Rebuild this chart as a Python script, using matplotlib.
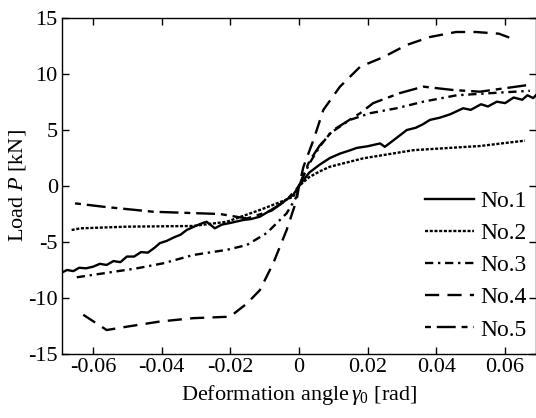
import matplotlib
matplotlib.use("Agg")
import matplotlib.pyplot as plt

plt.rcParams['font.family'] = ['Liberation Serif', 'DejaVu Serif']
plt.rcParams['mathtext.fontset'] = 'custom'
plt.rcParams['mathtext.rm'] = 'Liberation Serif'
plt.rcParams['mathtext.it'] = 'Liberation Serif:italic'

# Deformation angle [rad] / Load [kN] for each specimen
x1 = [-0.0696, -0.0675, -0.0657, -0.0640, -0.0620, -0.0599, -0.0580, -0.0560, -0.0540, -0.0520,
      -0.0501, -0.0480, -0.0460, -0.0440, -0.0420, -0.0405, -0.0385, -0.0365, -0.0345, -0.0327,
      -0.0300, -0.0280, -0.0269, -0.0245, -0.0225, -0.0200, -0.0163, -0.0140, -0.0114, -0.0090,
      -0.0066, -0.0040, -0.0017, 0.0,
      0.0030, 0.0060, 0.0090, 0.0120, 0.0150, 0.0168, 0.0200, 0.0236, 0.0250, 0.0280, 0.0314,
      0.0340, 0.0360, 0.0381, 0.0410, 0.0440, 0.0478, 0.0500, 0.0530, 0.0550, 0.0576, 0.0600,
      0.0625, 0.0650, 0.0665, 0.0682, 0.0695]
y1 = [-7.8, -7.5, -7.6, -7.3, -7.35, -7.2, -6.95, -7.05, -6.7, -6.8,
      -6.3, -6.3, -5.9, -5.95, -5.5, -5.1, -4.9, -4.6, -4.35, -3.93,
      -3.55, -3.3, -3.19, -3.78, -3.45, -3.3, -3.04, -2.95, -2.74, -2.3,
      -1.85, -1.3, -0.8, 0.0,
      1.2, 1.9, 2.5, 2.9, 3.2, 3.4, 3.55, 3.8, 3.5, 4.2, 5.0,
      5.2, 5.5, 5.9, 6.1, 6.4, 6.94, 6.8, 7.3, 7.1, 7.53, 7.4,
      7.9, 7.7, 8.1, 7.85, 8.28]

x2 = [-0.0662, -0.0637, -0.0501, -0.0308, -0.0210, -0.0114, -0.0060, -0.0017, 0.0,
      0.0030, 0.0060, 0.0090, 0.0187, 0.0333, 0.0527, 0.0658]
y2 = [-3.93, -3.78, -3.63, -3.57, -3.19, -2.14, -1.5, -0.96, 0.0,
      0.8, 1.3, 1.72, 2.47, 3.2, 3.57, 4.05]

x3 = [-0.0647, -0.0570, -0.0472, -0.0395, -0.0308, -0.0210, -0.0152, -0.0094, -0.0036, -0.0007, 0.0,
      0.0030, 0.0060, 0.0090, 0.0148, 0.0207, 0.0284, 0.0362, 0.0459, 0.0547, 0.0672]
y3 = [-8.15, -7.8, -7.35, -6.9, -6.16, -5.7, -5.27, -4.2, -2.44, -0.95, 0.0,
      2.0, 3.5, 4.7, 5.9, 6.5, 6.94, 7.53, 8.1, 8.27, 8.5]

x4 = [-0.0628, -0.0560, -0.0501, -0.0405, -0.0308, -0.0201, -0.0152, -0.0114, -0.0075, -0.0036, -0.0007, 0.0,
      0.0013, 0.0042, 0.0071, 0.0119, 0.0178, 0.0245, 0.0314, 0.0381, 0.0457, 0.0515, 0.0582, 0.0634]
y4 = [-11.5, -12.86, -12.56, -12.1, -11.8, -11.67, -10.5, -9.3, -6.9, -3.93, -1.25, 0.0,
      1.72, 4.1, 6.8, 8.86, 10.65, 11.5, 12.6, 13.3, 13.75, 13.75, 13.6, 13.0]

x5 = [-0.0652, -0.0570, -0.0424, -0.0230, -0.0152, -0.0080, -0.0036, 0.0,
      0.0030, 0.0060, 0.0100, 0.0178, 0.0216, 0.0294, 0.0362, 0.0449, 0.0527, 0.0663]
y5 = [-1.55, -1.85, -2.3, -2.5, -2.9, -2.2, -1.25, 0.0,
      2.2, 3.6, 5.0, 6.5, 7.4, 8.3, 8.87, 8.57, 8.42, 9.0]

labels = ['No.1', 'No.2', 'No.3', 'No.4', 'No.5']

fig = plt.figure(figsize=(5.36, 4.18), dpi=100)
ax = fig.add_axes([62 / 536, 64 / 418, 1 - 62 / 536, 336 / 418])

ax.plot(x1, y1, color='black', lw=1.7, linestyle='-', label=labels[0])
ax.plot(x2, y2, color='black', lw=1.7, linestyle=(0, (1.3, 0.7)), label=labels[1])
ax.plot(x3, y3, color='black', lw=1.7, linestyle=(0, (3.5, 2, 1, 2)), label=labels[2])
ax.plot(x4, y4, color='black', lw=1.7, linestyle=(0, (6, 3.5)), label=labels[3])
ax.plot(x5, y5, color='black', lw=1.7, linestyle=(0, (2.5, 2.5, 8, 2.5)), label=labels[4])

ax.set_xlim(-0.069, 0.069)
ax.set_ylim(-15, 15)
ax.set_xticks([-0.06, -0.04, -0.02, 0, 0.02, 0.04, 0.06])
ax.set_xticklabels(['-0.06', '-0.04', '-0.02', '0', '0.02', '0.04', '0.06'])
ax.set_yticks([-15, -10, -5, 0, 5, 10, 15])
ax.set_yticklabels(['-15', '-10', '-5', '0', '5', '10', '15'])
ax.tick_params(direction='in', length=5, width=1, top=True, right=True,
               labelsize=16, pad=3)
for s in ax.spines.values():
    s.set_linewidth(1)

ax.set_xlabel(r'Deformation angle$\,\gamma_0$ [rad]', fontsize=16, labelpad=4)
ax.set_ylabel(r'Load $P$ [kN]', fontsize=16, labelpad=0)

ax.legend(loc='lower right', bbox_to_anchor=(1.0, 0.012), frameon=False, fontsize=17,
          handlelength=2.1, handletextpad=0.25, labelspacing=0.45, borderaxespad=0)

fig.savefig('out.png', dpi=100)
